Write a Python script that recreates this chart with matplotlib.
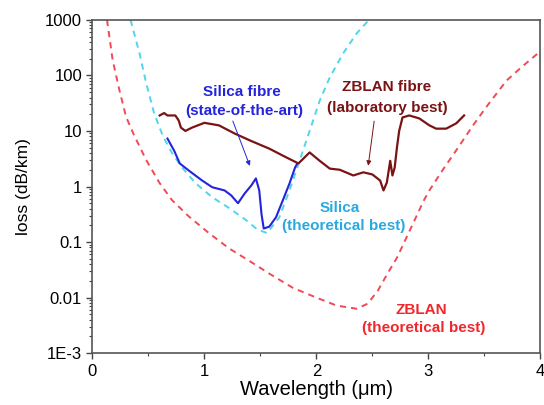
import matplotlib
matplotlib.use("Agg")
import matplotlib.pyplot as plt
from matplotlib.ticker import FixedLocator, LogLocator, NullFormatter

plt.rcParams['font.family'] = ['Liberation Sans', 'DejaVu Sans']

# ZBLAN theoretical best (red dashed)
zblan_th_wl = [0.13, 0.18, 0.24, 0.30, 0.37, 0.48, 0.60, 0.71, 0.86, 1.04, 1.22, 1.40, 1.58,
               1.79, 2.0, 2.18, 2.36, 2.46, 2.55, 2.64, 2.72, 2.84, 2.96, 3.01, 3.13, 3.26,
               3.40, 3.53, 3.70, 3.83, 3.98]
zblan_th_loss = [1000, 190, 55, 18, 8.5, 3.0, 1.15, 0.57, 0.29, 0.145, 0.077, 0.046, 0.027,
                 0.015, 0.01, 0.0072, 0.0063, 0.0078, 0.0134, 0.028, 0.052, 0.17, 0.56, 0.85,
                 2.0, 4.8, 12.6, 29, 81, 139, 250]

# Silica theoretical best (cyan dashed)
silica_th_wl = [0.34, 0.42, 0.48, 0.55, 0.63, 0.71, 0.80, 0.92, 1.07, 1.22, 1.37, 1.47, 1.56,
                1.67, 1.76, 1.85, 1.94, 2.03, 2.12, 2.24, 2.36, 2.45, 2.48]
silica_th_loss = [1000, 250, 72, 21, 8, 4, 2.2, 1.15, 0.64, 0.41, 0.25, 0.17, 0.145,
                  0.28, 0.85, 2.9, 10, 35, 92, 250, 570, 900, 1000]

# Silica fibre, state of the art (blue)
silica_wl = [0.67, 0.73, 0.78, 0.86, 0.98, 1.07, 1.18, 1.24, 1.30, 1.36, 1.42, 1.46, 1.49,
             1.51, 1.53, 1.58, 1.64, 1.70, 1.76, 1.81, 1.83]
silica_loss = [7.3, 4.4, 2.6, 1.94, 1.28, 0.97, 0.85, 0.69, 0.5, 0.75, 1.05, 1.4, 0.85,
               0.32, 0.175, 0.19, 0.28, 0.56, 1.13, 2.2, 2.6]

# ZBLAN fibre, laboratory best (dark red)
zblan_wl = [0.60, 0.64, 0.67, 0.74, 0.77, 0.79, 0.83, 0.89, 1.00, 1.13, 1.27, 1.41, 1.58,
            1.70, 1.84, 1.94, 2.03, 2.12, 2.21, 2.33, 2.42, 2.50, 2.57, 2.60, 2.63, 2.66,
            2.68, 2.70, 2.72, 2.74, 2.77, 2.83, 2.92, 3.01, 3.07, 3.16, 3.25, 3.32]
zblan_loss = [19, 21, 19, 19, 15.5, 11.5, 10, 11.5, 14, 12.6, 9, 6.7, 4.8,
              3.6, 2.6, 4.1, 2.9, 2.1, 2.0, 1.58, 1.8, 1.65, 1.28, 0.85, 1.18, 2.9,
              1.58, 2.2, 5, 10, 17.5, 19, 16.8, 12.6, 11, 11, 13.7, 19]

yticks = [1e-3, 0.01, 0.1, 1, 10, 100, 1000]
ytick_labels = ["1E-3", "0.01", "0.1", "1", "10", "100", "1000"]

red = "#ef4a55"
cyan = "#4fd6e8"
blue = "#2424dc"
darkred = "#7a1414"

fig = plt.figure(figsize=(5.44, 4.05), dpi=100)
ax = fig.add_axes([0.17, 0.128, 0.823, 0.823])

ax.plot(zblan_th_wl, zblan_th_loss, color=red, lw=1.4, dashes=(3.2, 2.6))
ax.plot(silica_th_wl, silica_th_loss, color=cyan, lw=1.4, dashes=(3.2, 2.6))
ax.plot(silica_wl, silica_loss, color=blue, lw=1.5)
ax.plot(zblan_wl, zblan_loss, color=darkred, lw=1.6)

ax.set_yscale("log")
ax.set_xlim(0, 4)
ax.set_ylim(1e-3, 1000)
ax.yaxis.set_major_locator(FixedLocator(yticks))
ax.set_yticklabels(ytick_labels)
ax.yaxis.set_minor_locator(LogLocator(base=10, subs=range(2, 10)))
ax.yaxis.set_minor_formatter(NullFormatter())
ax.set_xticks([0, 1, 2, 3, 4])
ax.set_xticks([0.5, 1.5, 2.5, 3.5], minor=True)

ax.tick_params(which="major", direction="out", length=4, width=1, labelsize=12, color="#444")
ax.tick_params(which="minor", direction="out", length=2.5, width=0.8, color="#444")
for s in ax.spines.values():
    s.set_color("#555")
    s.set_linewidth(1.2)

ax.set_xlabel("Wavelength (\u03bcm)", fontsize=14.5, labelpad=1)
ax.set_ylabel("loss (dB/km)", fontsize=12.5, labelpad=10)

bold = dict(fontsize=11, fontweight="bold", ha="center", va="center")
ax.text(1.335, 49.5, "Silica fibre", color=blue, **bold)
ax.text(1.36, 22.4, "(state-of-the-art)", color=blue, **bold)
ax.text(2.63, 61, "ZBLAN fibre", color=darkred, **bold)
ax.text(2.63, 25.4, "(laboratory best)", color=darkred, **bold)
ax.text(2.21, 0.418, "Silica", color="#2aa9e0", **bold)
ax.text(2.24, 0.198, "(theoretical best)", color="#2aa9e0", **bold)
ax.text(2.94, 0.006, "ZBLAN", color="#f0282d", **bold)
ax.text(2.96, 0.0028, "(theoretical best)", color="#f0282d", **bold)

ax.annotate("", xy=(1.415, 2.11), xytext=(1.245, 16.8),
            arrowprops=dict(arrowstyle="-|>", color=blue, lw=0.7, mutation_scale=7))
ax.annotate("", xy=(2.46, 2.11), xytext=(2.52, 16.8),
            arrowprops=dict(arrowstyle="-|>", color=darkred, lw=0.7, mutation_scale=7))

fig.savefig("out.png", dpi=100)
